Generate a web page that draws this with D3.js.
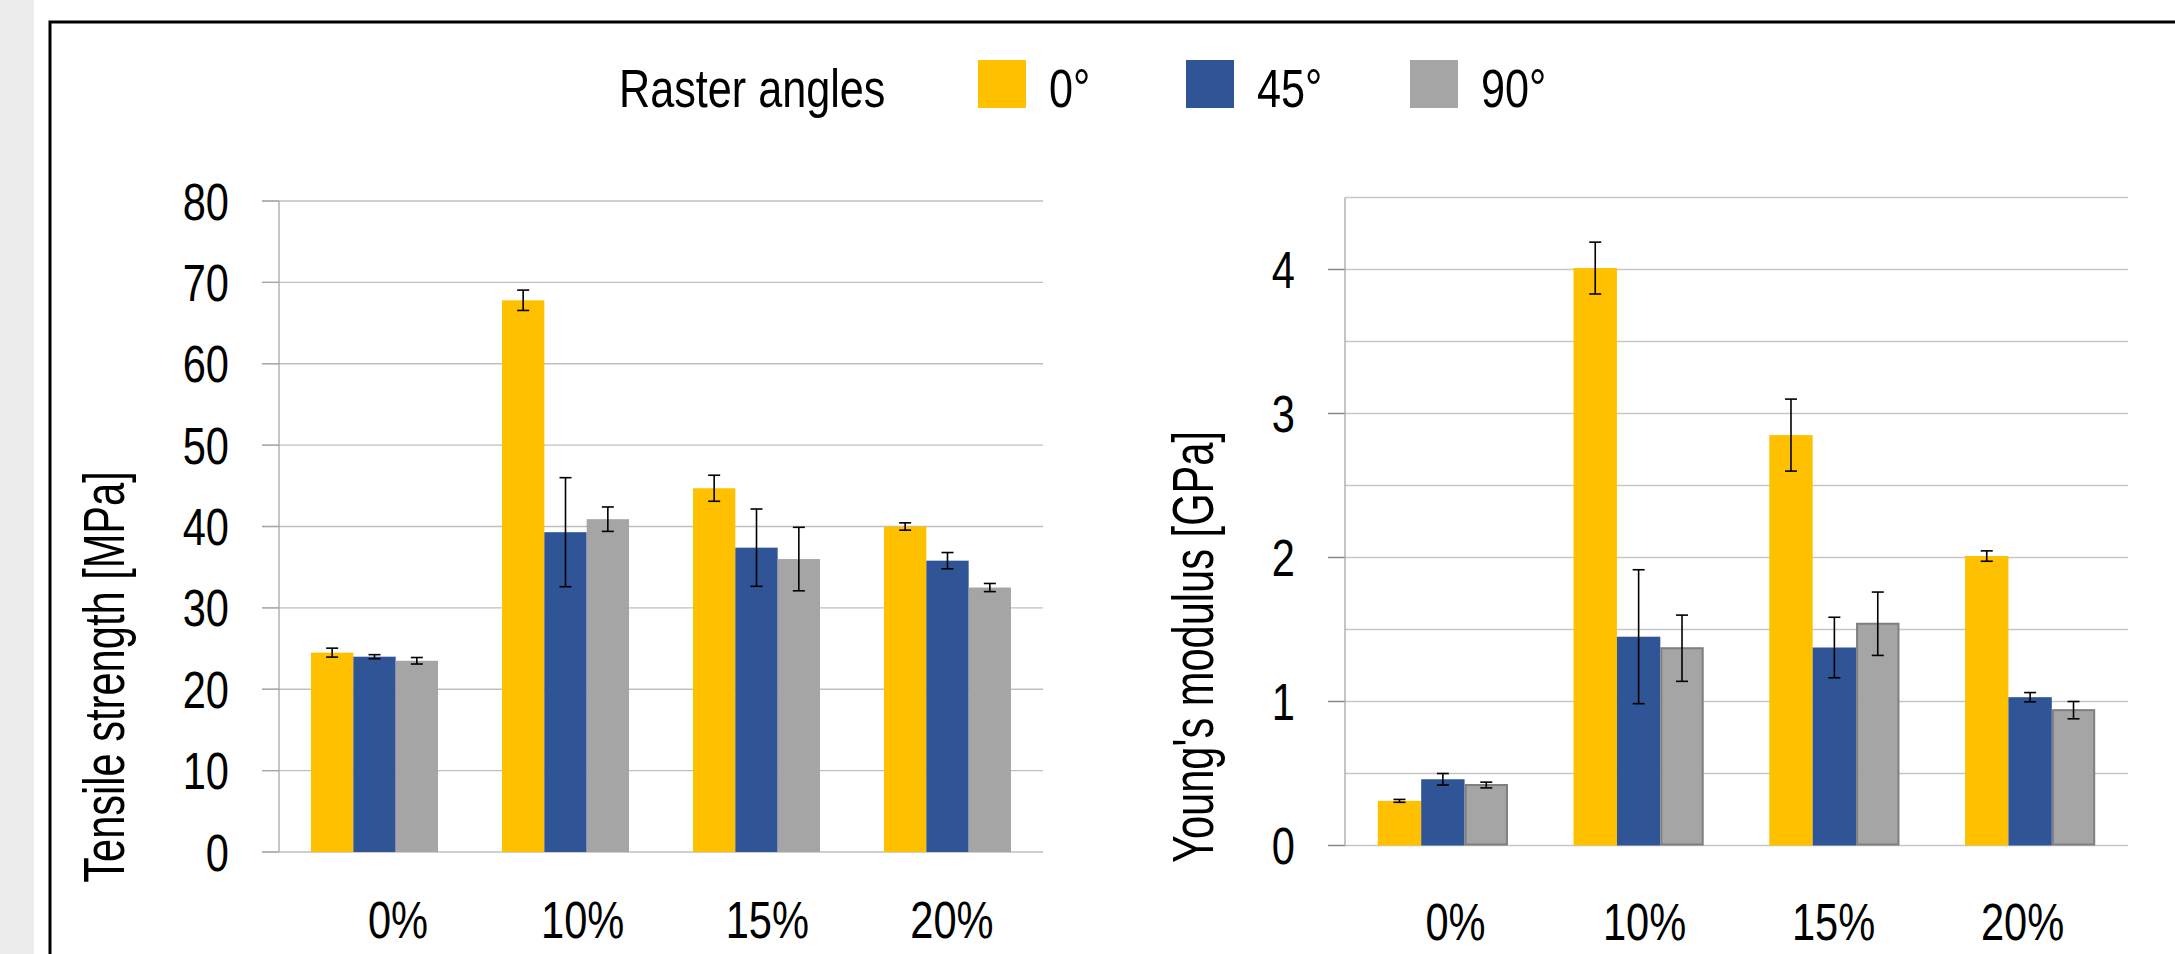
<!DOCTYPE html>
<html>
<head>
<meta charset="utf-8">
<script src="https://cdn.jsdelivr.net/npm/d3@7"></script>
<style>
  html, body { margin: 0; padding: 0; background: #ffffff; }
  svg { display: block; }
  text { font-family: "Liberation Sans", Arial, sans-serif; fill: #000; }
</style>
</head>
<body>
<svg id="chart" width="2175" height="954"></svg>
<script>
// ---------- data ----------
const categories = ["0%", "10%", "15%", "20%"];
const seriesNames = ["0°", "45°", "90°"];
const legendTitle = "Raster angles";

const tensile0  = [24.5, 67.8, 44.7, 40.0];
const tensile45 = [24.0, 39.3, 37.4, 35.8];
const tensile90 = [23.5, 40.9, 36.0, 32.5];
const tensileErr0  = [0.55, 1.25, 1.6, 0.45];
const tensileErr45 = [0.25, 6.7, 4.75, 1.0];
const tensileErr90 = [0.4, 1.5, 3.9, 0.5];

const modulus0  = [0.31, 4.01, 2.85, 2.01];
const modulus45 = [0.46, 1.45, 1.375, 1.03];
const modulus90 = [0.42, 1.37, 1.54, 0.94];
const modulusErr0  = [0.01, 0.18, 0.25, 0.036];
const modulusErr45 = [0.04, 0.465, 0.21, 0.032];
const modulusErr90 = [0.02, 0.23, 0.22, 0.06];

const tensileTicks = [0, 10, 20, 30, 40, 50, 60, 70, 80];
const modulusTicks = [0, 1, 2, 3, 4];
const modulusGrid = [0, 0.5, 1, 1.5, 2, 2.5, 3, 3.5, 4, 4.5];

const tensileTitle = "Tensile strength [MPa]";
const modulusTitle = "Young's modulus [GPa]";

// ---------- style ----------
const colors = ["#FFC000", "#2F5597", "#A5A5A5"];
const SX = 0.8;        // horizontal condensing of text
const SX_TITLE = 0.73; // condensing of the axis titles
const FONT = 52;

const svg = d3.select("#chart");

// background band + frame
svg.append("rect").attr("x", 0).attr("y", 0).attr("width", 34).attr("height", 954).attr("fill", "#ebebeb");
svg.append("path").attr("d", "M50,954 L50,22 L2175,22").attr("fill", "none").attr("stroke", "#000").attr("stroke-width", 3);

function ctext(g, str, x, y, size, anchor, rot, sx) {
  return g.append("text")
    .attr("transform", `translate(${x},${y})` + (rot ? ` rotate(${rot})` : "") + ` scale(${sx || SX},1)`)
    .attr("text-anchor", anchor)
    .style("font-size", size + "px")
    .text(str);
}

function panel(cfg) {
  const g = svg.append("g");
  const x0 = d3.scaleBand().domain(categories).range([cfg.left, cfg.right]).paddingInner(0.335).paddingOuter(0.1675);
  const x1 = d3.scaleBand().domain(seriesNames).range([0, x0.bandwidth()]).padding(0);
  const y = d3.scaleLinear().domain([0, cfg.max]).range([cfg.bottom, cfg.top]);

  // gridlines
  g.selectAll("line.grid").data(cfg.grid).enter().append("line")
    .attr("x1", d => cfg.ticks.includes(d) ? cfg.left - 17 : cfg.left)
    .attr("x2", cfg.right)
    .attr("y1", d => y(d)).attr("y2", d => y(d))
    .attr("stroke", cfg.gridColor).attr("stroke-width", 1.3);
  // tick marks (darker) for labelled values
  g.selectAll("line.tick").data(cfg.ticks).enter().append("line")
    .attr("x1", cfg.left - 17).attr("x2", cfg.left)
    .attr("y1", d => y(d)).attr("y2", d => y(d))
    .attr("stroke", cfg.tickColor).attr("stroke-width", 1.3);
  // vertical axis
  g.append("line").attr("x1", cfg.left).attr("x2", cfg.left)
    .attr("y1", y(cfg.max)).attr("y2", y(0))
    .attr("stroke", "#a6a6a6").attr("stroke-width", 1.3);

  // tick labels
  cfg.ticks.forEach(t => ctext(g, String(t), cfg.left - 50, y(t) + 18.6, FONT, "end"));

  // bars
  const rows = categories.map((c, i) => ({ c, i }));
  cfg.values.forEach((vals, s) => {
    const sg = g.append("g");
    sg.selectAll("rect").data(rows).enter().append("rect")
      .attr("x", d => x0(d.c) + x1(seriesNames[s]) + (cfg.outline[s] ? 1 : 0))
      .attr("width", x1.bandwidth() - (cfg.outline[s] ? 2 : 0))
      .attr("y", d => y(vals[d.i]))
      .attr("height", d => y(0) - y(vals[d.i]) - (cfg.outline[s] ? 1 : 0))
      .attr("fill", colors[s])
      .attr("stroke", cfg.outline[s] ? "#7f7f7f" : "none")
      .attr("stroke-width", 2);
  });
  // error bars
  cfg.values.forEach((vals, s) => {
    const errs = cfg.errors[s];
    const eg = g.append("g").attr("stroke", "#000").attr("stroke-width", 1.6);
    rows.forEach(d => {
      const cx = x0(d.c) + x1(seriesNames[s]) + x1.bandwidth() / 2;
      const yt = y(vals[d.i] + errs[d.i]), yb = y(vals[d.i] - errs[d.i]);
      eg.append("line").attr("x1", cx).attr("x2", cx).attr("y1", yt).attr("y2", yb);
      eg.append("line").attr("x1", cx - 6).attr("x2", cx + 6).attr("y1", yt).attr("y2", yt);
      eg.append("line").attr("x1", cx - 6).attr("x2", cx + 6).attr("y1", yb).attr("y2", yb);
    });
  });

  // category labels
  const xl = d3.scaleBand().domain(categories).range(cfg.labelRange);
  categories.forEach(c => ctext(g, c, xl(c) + xl.bandwidth() / 2, cfg.labelY, FONT, "middle"));

  // axis title
  ctext(g, cfg.title, cfg.titleX, cfg.titleY, 57, "middle", -90, SX_TITLE);
}

panel({
  left: 279, right: 1043, top: 201, bottom: 852, max: 80,
  grid: tensileTicks, ticks: tensileTicks,
  gridColor: "#bfbfbf", tickColor: "#a6a6a6",
  values: [tensile0, tensile45, tensile90],
  errors: [tensileErr0, tensileErr45, tensileErr90],
  outline: [false, false, false],
  labelRange: [305.7, 1044.3], labelY: 938,
  title: tensileTitle, titleX: 124, titleY: 677
});

panel({
  left: 1345, right: 2128, top: 197.5, bottom: 845.5, max: 4.5,
  grid: modulusGrid, ticks: modulusTicks,
  gridColor: "#c6c6c6", tickColor: "#868686",
  values: [modulus0, modulus45, modulus90],
  errors: [modulusErr0, modulusErr45, modulusErr90],
  outline: [false, false, true],
  labelRange: [1361, 2117], labelY: 940,
  title: modulusTitle, titleX: 1213, titleY: 647
});

// legend
const lg = svg.append("g");
ctext(lg, legendTitle, 619, 107, 54, "start");
const legendX = d3.scaleOrdinal().domain(seriesNames).range([978, 1186, 1410]);
seriesNames.forEach((s, i) => {
  lg.append("rect").attr("x", legendX(s)).attr("y", 60).attr("width", 48).attr("height", 48).attr("fill", colors[i]);
  ctext(lg, s, legendX(s) + 71, 107, 54, "start");
});
</script>
</body>
</html>
